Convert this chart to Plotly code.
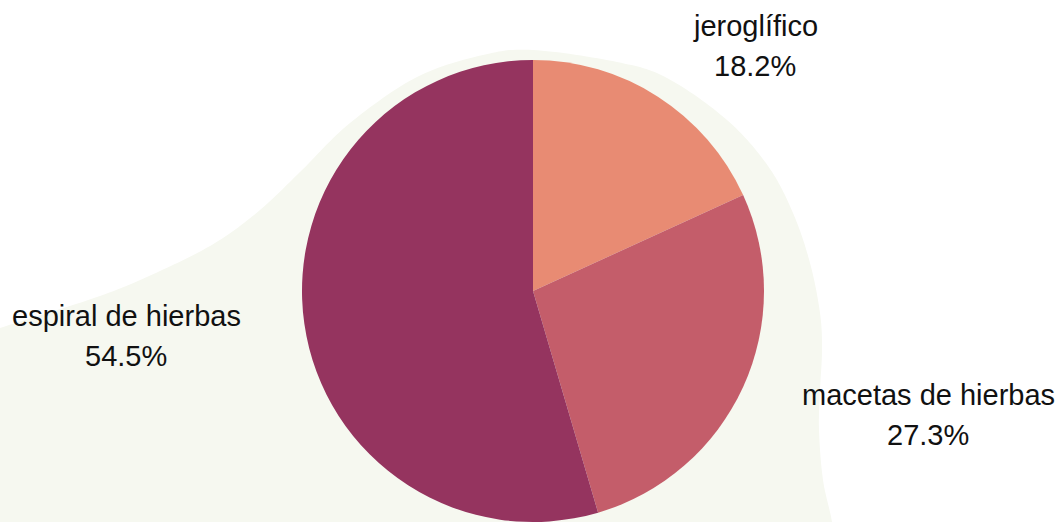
import plotly.graph_objects as go

# ---- data ----
labels = ["jeroglífico", "macetas de hierbas", "espiral de hierbas"]
values = [2, 3, 6]
colors = ["#e88b73", "#c45d6a", "#95345f"]

W, H = 1059, 522
BLOB_COLOR = "#f6f8f0"

def px_to_paper(x, y):
    return x / W, 1 - y / H

# decorative background blob outline (pixel positions)
blob_pts = [(-20, 336), (0, 328), (100, 296), (160, 271), (215, 243), (260, 210),
            (300, 172), (350, 123), (417, 77), (483, 55), (533, 50), (617, 62),
            (667, 78), (727, 120), (768, 166), (793, 213), (810, 263), (820, 313),
            (822, 350), (820, 390), (819, 430), (823, 480), (832, 522), (836, 560)]

def smooth_path(pts, steps=16):
    out = []
    n = len(pts)
    for i in range(n - 1):
        p0 = pts[i - 1] if i > 0 else pts[i]
        p1, p2 = pts[i], pts[i + 1]
        p3 = pts[i + 2] if i + 2 < n else pts[i + 1]
        for s in range(steps):
            t = s / steps
            t2, t3 = t * t, t * t * t
            pt = []
            for k in range(2):
                pt.append(0.5 * ((2 * p1[k]) + (-p0[k] + p2[k]) * t
                                 + (2 * p0[k] - 5 * p1[k] + 4 * p2[k] - p3[k]) * t2
                                 + (-p0[k] + 3 * p1[k] - 3 * p2[k] + p3[k]) * t3))
            out.append(tuple(pt))
    out.append(pts[-1])
    out += [(836, 560), (-20, 560)]
    q = [px_to_paper(*o) for o in out]
    d = "M " + " L ".join(f"{a:.5f},{b:.5f}" for a, b in q) + " Z"
    return d

cx, cy, r = 533, 291, 231

fig = go.Figure(go.Pie(
    labels=labels,
    values=values,
    marker=dict(colors=colors, line=dict(width=0)),
    sort=False,
    direction="clockwise",
    rotation=0,
    textinfo="none",
    hoverinfo="label+percent",
    showlegend=False,
    domain=dict(x=[(cx - r) / W, (cx + r) / W], y=[0, 1 - (cy - r) / H]),
))

total = sum(values)
# label centre x and percentage-line centre y (pixels)
label_pos = [(755, 66), (928, 435), (126, 356)]
LINE_GAP = 40
font = dict(family="Liberation Sans, Arial, sans-serif", size=29, color="#111111")
annotations = []
for lab, v, (lx, ly) in zip(labels, values, label_pos):
    for txt, yy in ((lab, ly - LINE_GAP), (f"{v / total * 100:.1f}%", ly)):
        ax, ay = px_to_paper(lx, yy)
        annotations.append(dict(
            x=ax, y=ay, xref="paper", yref="paper", text=txt,
            showarrow=False, xanchor="center", yanchor="middle", align="center",
            font=font,
        ))

fig.update_layout(
    width=W, height=H,
    margin=dict(l=0, r=0, t=0, b=0),
    paper_bgcolor="white",
    plot_bgcolor="white",
    shapes=[dict(type="path", path=smooth_path(blob_pts), xref="paper", yref="paper",
                 fillcolor=BLOB_COLOR, line=dict(width=0), layer="below")],
    annotations=annotations,
)

fig.write_html("out.html")
